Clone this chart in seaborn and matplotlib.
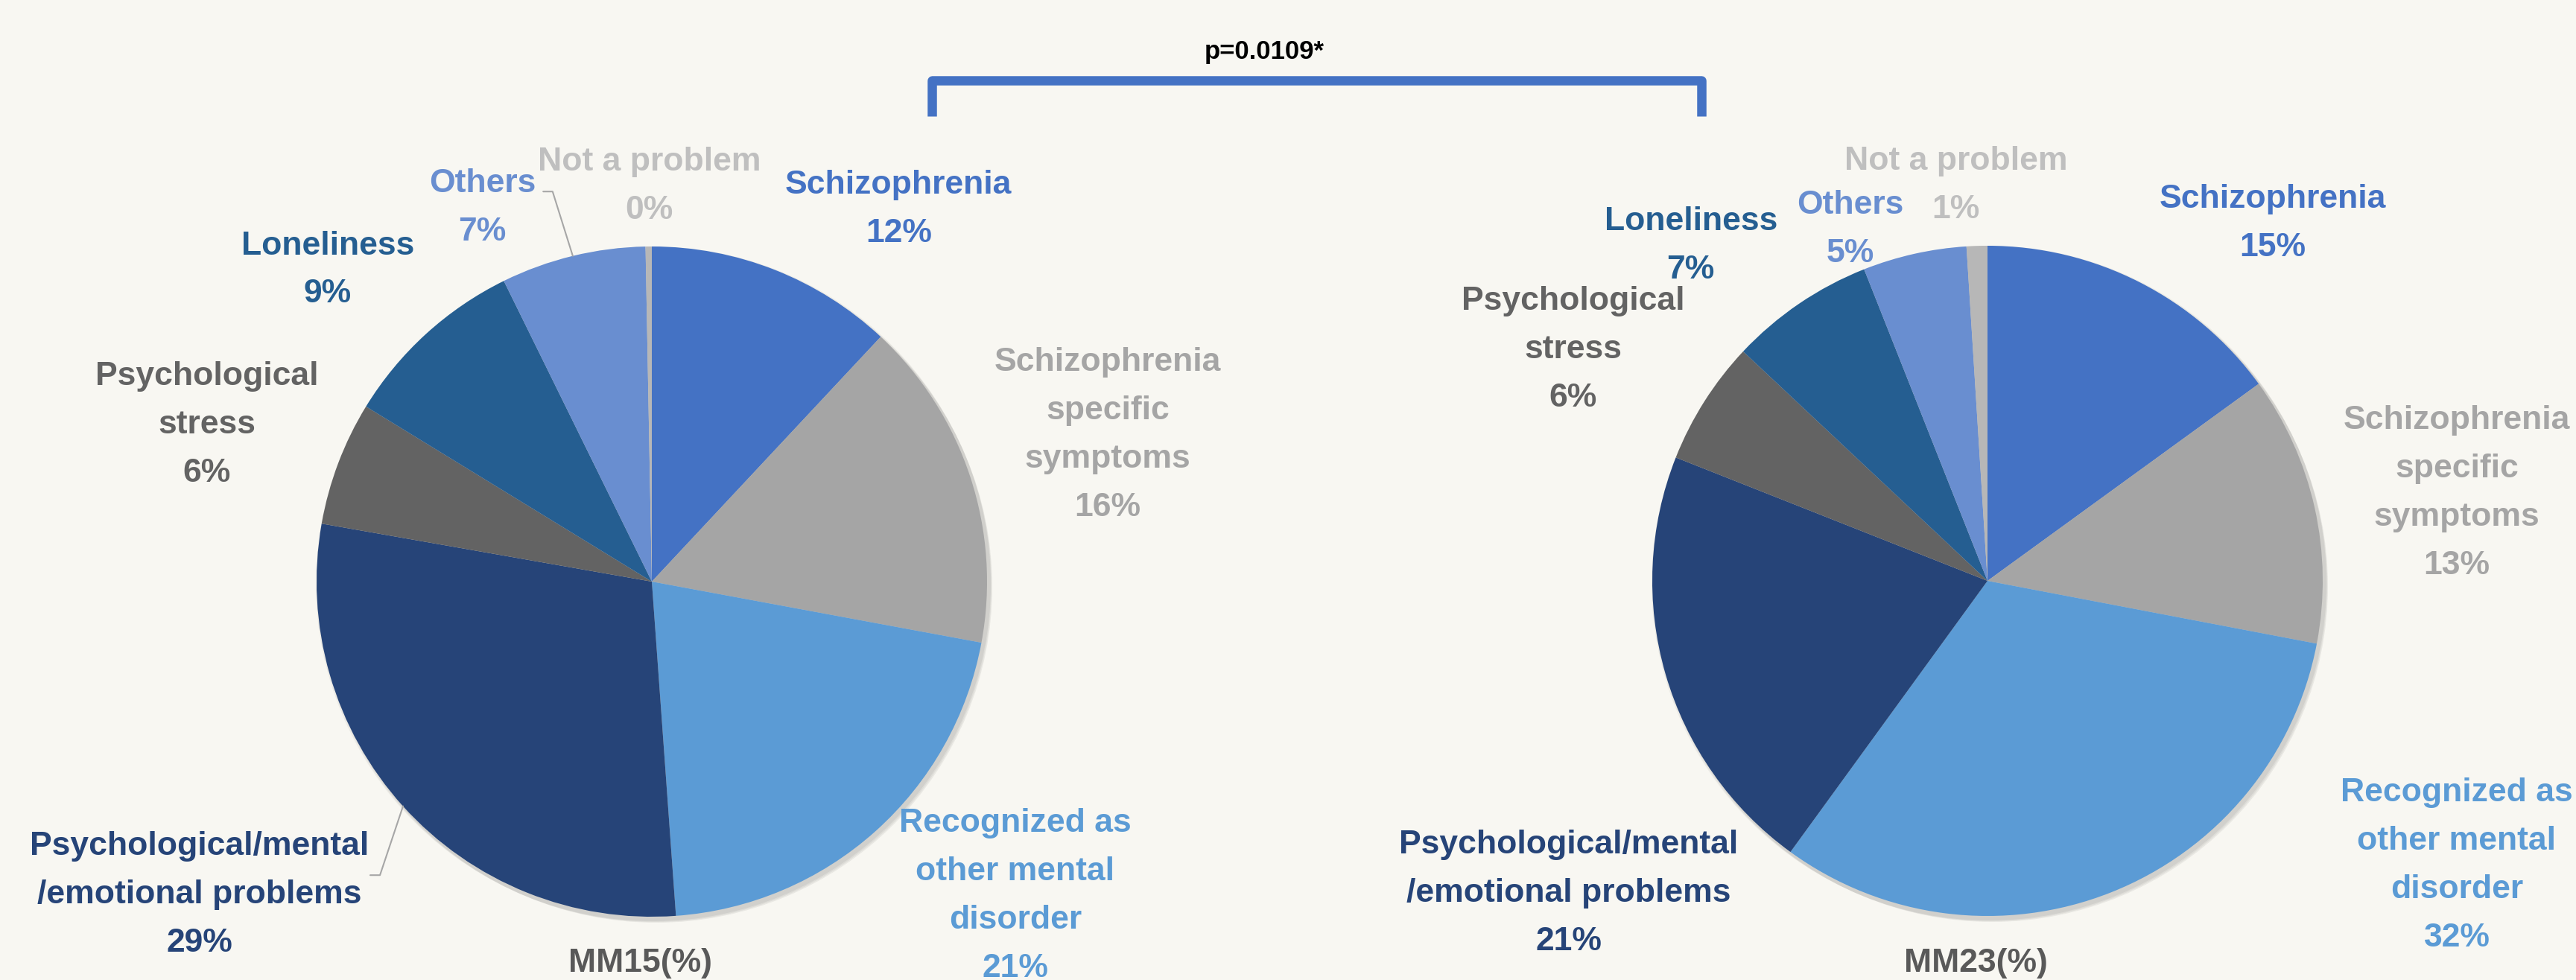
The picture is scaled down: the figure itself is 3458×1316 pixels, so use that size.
import matplotlib
matplotlib.use("Agg")
import matplotlib.pyplot as plt
from matplotlib.patches import Circle
import seaborn as sns
import numpy as np

# dados
categorias = ["Schizophrenia", "Schizophrenia\nspecific\nsymptoms", "Recognized as\nother mental\ndisorder",
              "Psychological/mental\n/emotional problems", "Psychological\nstress", "Loneliness",
              "Others", "Not a problem"]
valores_mm15 = [12, 16, 21, 29, 6, 9, 7, 0.3]
valores_mm23 = [15, 13, 32, 21, 6, 7, 5, 1]
titulos = ["MM15(%)", "MM23(%)"]
texto_p = "p=0.0109*"

cores_fatias = ["#4472C4", "#A5A5A5", "#5B9BD5", "#264478", "#636363", "#255E91", "#698ED0", "#B7B7B7"]
cores_texto = ["#4472C4", "#A5A5A5", "#5B9BD5", "#264478", "#636363", "#255E91", "#698ED0", "#BFBFBF"]

# posicoes dos rotulos em unidades do raio (y para cima)
pos_mm15 = [(0.736, 1.122), (1.36, 0.447), (1.084, -0.927), (-1.349, -0.924),
            (-1.327, 0.478), (-0.967, 0.94), (-0.505, 1.125), (-0.008, 1.19)]
pos_mm23 = [(0.85, 1.076), (1.40, 0.273), (1.40, -0.838), (-1.25, -0.923),
            (-1.236, 0.70), (-0.885, 1.01), (-0.41, 1.058), (-0.094, 1.19)]

W, H = 3458, 1316
sns.set_theme(style="white")
plt.rcParams['font.family'] = ['Liberation Sans', 'DejaVu Sans']
fundo = "#F8F7F2"
TAM = 32          # tamanho da fonte dos rotulos
PASSO = 65        # distancia entre linhas, em pixels
CAP = 32          # altura das maiusculas, em pixels

fig = plt.figure(figsize=(W / 100, H / 100), dpi=100, facecolor=fundo)
ax = fig.add_axes([0, 0, 1, 1])
ax.set_facecolor(fundo)

R = 450
centros = [(875, H - 781), (2668, H - 780)]
posicoes = [pos_mm15, pos_mm23]
# linhas de chamada (indice da fatia, pontos do rotulo em unidades do raio)
chamadas = [[(6, [(-0.324, 1.164), (-0.296, 1.164)]), (3, [(-0.84, -0.876), (-0.811, -0.876)])], []]

for k, valores in enumerate([valores_mm15, valores_mm23]):
    cx, cy = centros[k]
    # sombra suave
    for i, a in enumerate([0.05, 0.05, 0.06]):
        ax.add_patch(Circle((cx + 2 + i * 2, cy - 3 - i * 2), R + 3 - i, color="black", alpha=a, lw=0, zorder=0))
    wedges, _ = ax.pie(valores, colors=cores_fatias, startangle=90, counterclock=False,
                       radius=R, center=(cx, cy), wedgeprops=dict(linewidth=0, zorder=1))
    for i, (nome, v) in enumerate(zip(categorias, valores)):
        dx, dy = posicoes[k][i]
        linhas = nome.split("\n") + [f"{v:.0f}%"]
        n = len(linhas)
        yc = cy + dy * R
        for j, linha in enumerate(linhas):
            yb = yc + ((n - 1) * PASSO + CAP) / 2 - CAP - j * PASSO
            ax.text(cx + dx * R, yb, linha, ha="center", va="baseline",
                    color=cores_texto[i], fontsize=TAM, fontweight="bold", zorder=3)
    for idx, pts in chamadas[k]:
        w = wedges[idx]
        meio = np.deg2rad((w.theta1 + w.theta2) / 2)
        xs = [cx + p[0] * R for p in pts] + [cx + R * np.cos(meio)]
        ys = [cy + p[1] * R for p in pts] + [cy + R * np.sin(meio)]
        ax.plot(xs, ys, color="#A6A6A6", lw=1.5, zorder=2)
    ax.text(cx - 0.035 * R, 11, titulos[k], ha="center", va="baseline", color="#595959",
            fontsize=TAM, fontweight="bold")

# colchete de significancia
ax.plot([1251, 1251, 2284, 2284], [H - 156, H - 108, H - 108, H - 156], color="#4472C4",
        lw=9, solid_joinstyle="round", solid_capstyle="butt")
ax.text(1697, H - 69, texto_p, ha="center", va="center", color="black", fontsize=25, fontweight="bold")

ax.set_xlim(0, W)
ax.set_ylim(0, H)
ax.set_aspect("equal")
ax.axis("off")

plt.savefig("out.png", dpi=100, facecolor=fundo)
